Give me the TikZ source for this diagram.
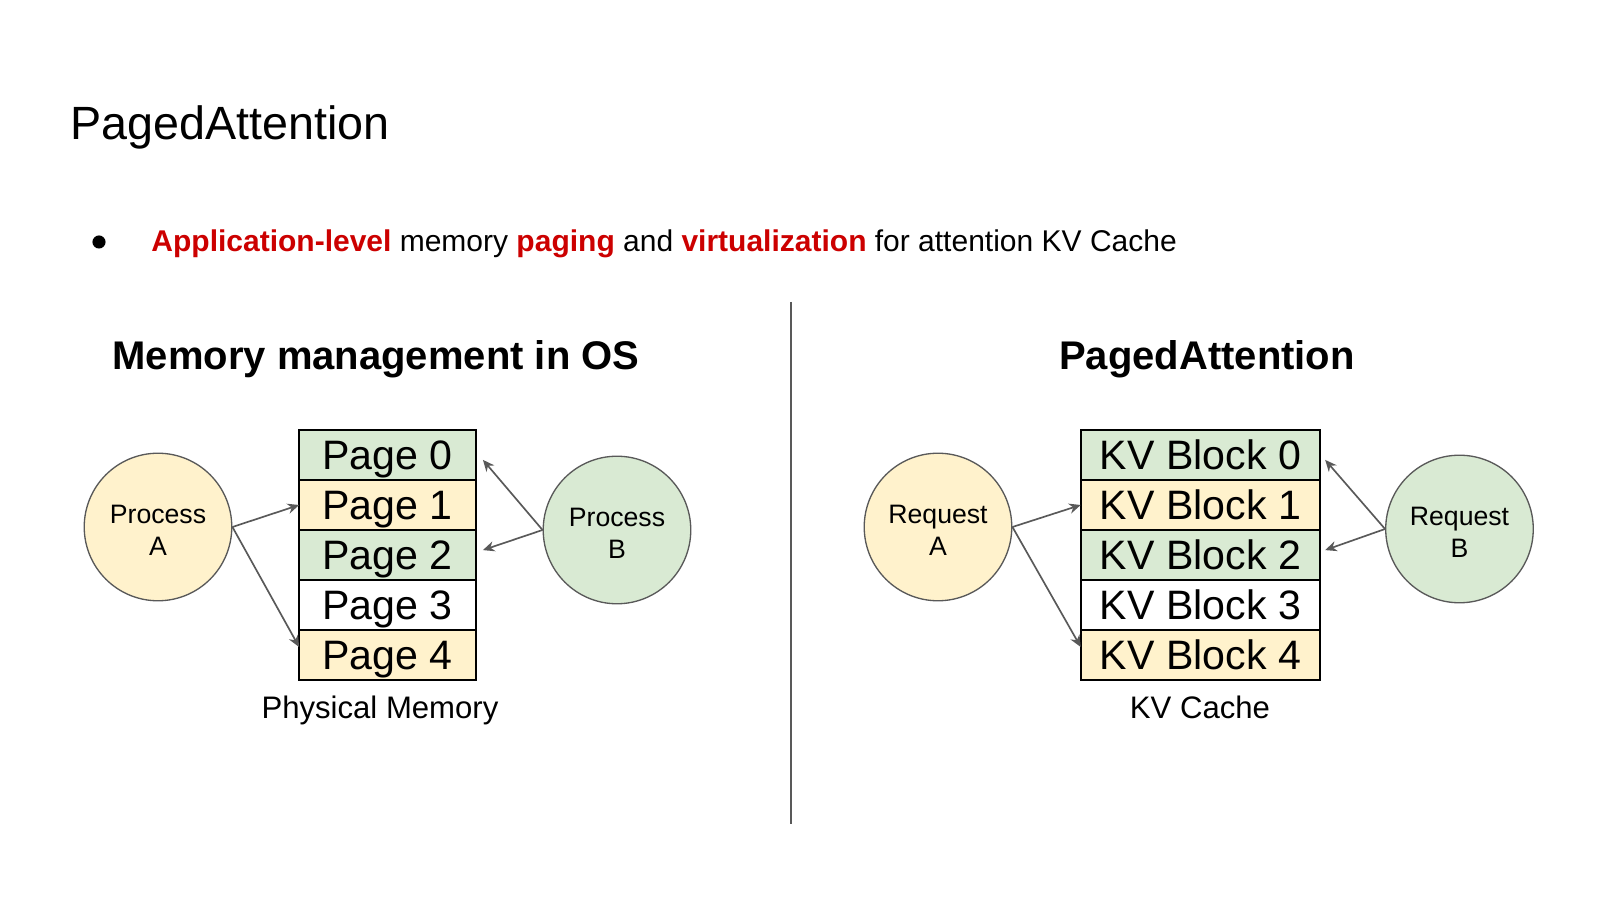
\documentclass[tikz,border=0pt]{standalone}
\usepackage{fontspec}
\setmainfont{Liberation Sans}
\usetikzlibrary{arrows.meta, positioning}
\definecolor{pggreen}{HTML}{D9EAD3}
\definecolor{pgyellow}{HTML}{FFF2CC}
\definecolor{hlred}{HTML}{CC0000}
\definecolor{dkgray}{HTML}{595959}

\tikzset{
  memrow/.style={draw=black, line width=0.75pt, minimum width=79.7pt, minimum height=22.5pt,
    inner sep=0pt, outer sep=0pt, text height=13.2pt, text depth=0pt, font=\fontsize{18.5}{22}\selectfont},
  kvrow/.style={memrow, minimum width=107.8pt},
  owner/.style={circle, draw=dkgray, line width=0.6pt, minimum size=66.4pt, inner sep=0pt,
    align=center, font=\fontsize{12}{14.4}\selectfont},
  ptr/.style={->, dkgray, line width=0.75pt},
  caption/.style={anchor=base, inner sep=0pt, font=\fontsize{14}{17}\selectfont},
  head/.style={anchor=base, inner sep=0pt, font=\bfseries\fontsize{18}{22}\selectfont},
}

\begin{document}
\begin{tikzpicture}[x=0.45pt, y=-0.45pt, >={Stealth[length=5.2pt, width=4.6pt]}]

% Background
\fill[white] (0,0) rectangle (1600,900);

% Title
\node[anchor=base west, inner sep=0pt, font=\fontsize{21}{25}\selectfont] (title) at (70,140) {PagedAttention};

% Bullet
\node[circle, fill=black, minimum size=5.9pt, inner sep=0pt] (bul) at (99,242) {};
\node[anchor=base west, inner sep=0pt, font=\fontsize{13.5}{16}\selectfont] (bultxt) at (151,252)
  {\textcolor{hlred}{\textbf{Application-level}} memory \textcolor{hlred}{\textbf{paging}} and \textcolor{hlred}{\textbf{virtualization}} for attention KV Cache};

% Divider
\draw[dkgray, line width=0.6pt] (791,302) -- (791,824);

% Left: OS memory
\node[head] (oshead) at (376,370) {Memory management in OS};

\node[memrow, fill=pggreen] (pg0) at (387.7,455) {Page 0};
\node[memrow, fill=pgyellow] (pg1) at (387.7,505) {Page 1};
\node[memrow, fill=pggreen] (pg2) at (387.7,555) {Page 2};
\node[memrow, fill=white] (pg3) at (387.7,605) {Page 3};
\node[memrow, fill=pgyellow] (pg4) at (387.7,655) {Page 4};
\node[caption] (pmlbl) at (380,719) {Physical Memory};

\node[owner, fill=pgyellow] (pra) at (158,527) {\rule{0pt}{11.3pt}Process\\A};
\node[owner, fill=pggreen] (prb) at (617,530) {\rule{0pt}{11.3pt}Process\\B};

\draw[ptr] (pra.east) -- (pg1.west);
\draw[ptr] (pra.east) -- ([yshift=3.6pt]pg4.west);
\draw[ptr] (prb.west) -- ([xshift=3pt, yshift=-2.2pt]pg0.east);
\draw[ptr] (prb.west) -- ([xshift=3pt, yshift=2.2pt]pg2.east);

% Right: PagedAttention
\node[head] (pahead) at (1207,370) {PagedAttention};

\node[kvrow, fill=pggreen] (kv0) at (1200.5,455) {KV Block 0};
\node[kvrow, fill=pgyellow] (kv1) at (1200.5,505) {KV Block 1};
\node[kvrow, fill=pggreen] (kv2) at (1200.5,555) {KV Block 2};
\node[kvrow, fill=white] (kv3) at (1200.5,605) {KV Block 3};
\node[kvrow, fill=pgyellow] (kv4) at (1200.5,655) {KV Block 4};
\node[caption] (kvlbl) at (1200,719) {KV Cache};

\node[owner, fill=pgyellow] (rqa) at (938,527) {\rule{0pt}{11.3pt}Request\\A};
\node[owner, fill=pggreen] (rqb) at (1459.5,529) {\rule{0pt}{11.3pt}Request\\B};

\draw[ptr] (rqa.east) -- (kv1.west);
\draw[ptr] (rqa.east) -- ([yshift=3.6pt]kv4.west);
\draw[ptr] (rqb.west) -- ([xshift=2.2pt, yshift=-2.2pt]kv0.east);
\draw[ptr] (rqb.west) -- ([xshift=2.2pt, yshift=2.2pt]kv2.east);

\end{tikzpicture}
\end{document}
